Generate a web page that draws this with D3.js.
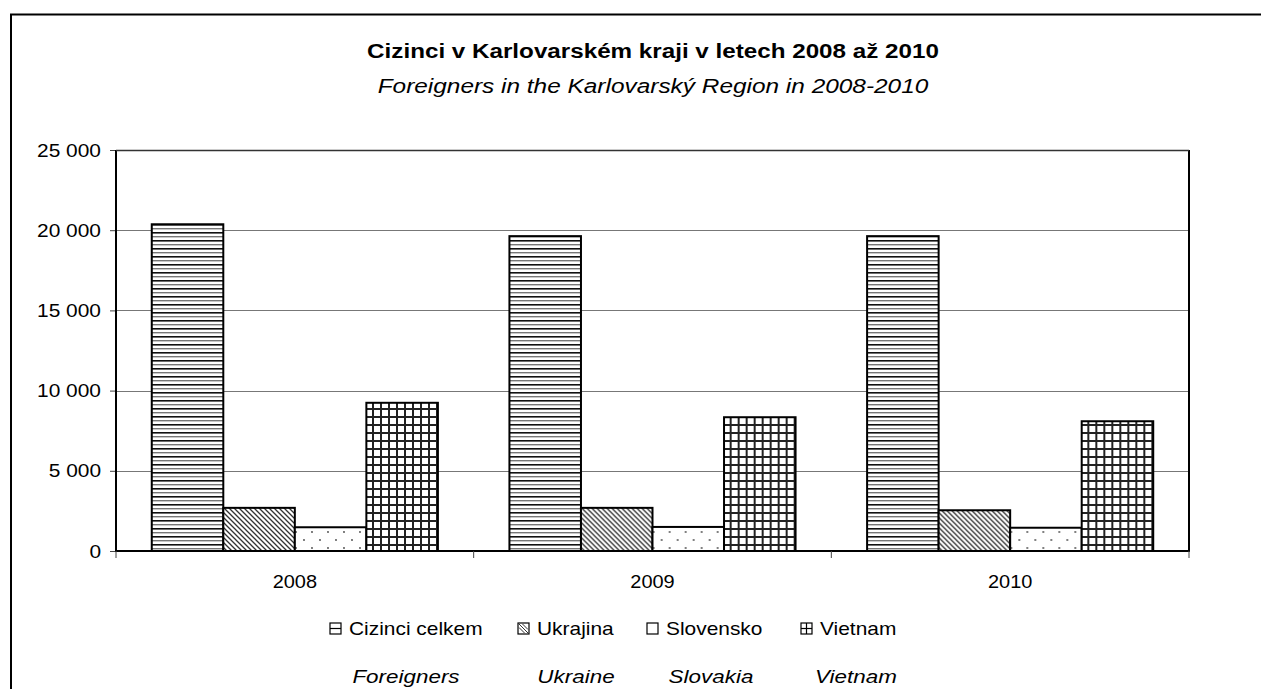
<!DOCTYPE html>
<html>
<head>
<meta charset="utf-8">
<script src="https://cdn.jsdelivr.net/npm/d3@7"></script>
<style>
  html, body { margin: 0; padding: 0; background: #fff; }
  svg { display: block; font-family: "Liberation Sans", Arial, sans-serif; }
</style>
</head>
<body>
<svg id="chart" width="1261" height="689"></svg>
<script>
// ---- data ----
const years = ["2008", "2009", "2010"];
const seriesKeys = ["Cizinci celkem", "Ukrajina", "Slovensko", "Vietnam"];
const seriesEnglish = ["Foreigners", "Ukraine", "Slovakia", "Vietnam"];
const cizinciCelkem = [20370, 19630, 19630];
const ukrajina = [2690, 2690, 2540];
const slovensko = [1480, 1500, 1450];
const vietnam = [9240, 8340, 8090];
const yTicks = [0, 5000, 10000, 15000, 20000, 25000];
const titleCz = "Cizinci v Karlovarském kraji v letech 2008 až 2010";
const titleEn = "Foreigners in the Karlovarský Region in 2008-2010";

const seriesValues = [cizinciCelkem, ukrajina, slovensko, vietnam];
const patternIds = ["pHoriz", "pDiag", "pDots", "pGrid"];

const svg = d3.select("#chart");
const plot = { left: 116, right: 1189, top: 150, bottom: 551 };

// stretch text horizontally to match the reference's wide glyphs
function stretch(sel, k) {
  sel.each(function () {
    const w = this.getComputedTextLength();
    d3.select(this).attr("textLength", w * k).attr("lengthAdjust", "spacingAndGlyphs");
  });
}

// ---- patterns ----
const defs = svg.append("defs");
const ph = defs.append("pattern").attr("id", "pHoriz").attr("patternUnits", "userSpaceOnUse")
  .attr("width", 8).attr("height", 8);
ph.append("rect").attr("width", 8).attr("height", 8).attr("fill", "#fff");
ph.append("rect").attr("y", 0).attr("width", 8).attr("height", 1.6).attr("fill", "#111");
ph.append("rect").attr("y", 4).attr("width", 8).attr("height", 1.4).attr("fill", "#777");
const pd = defs.append("pattern").attr("id", "pDiag").attr("patternUnits", "userSpaceOnUse")
  .attr("width", 5).attr("height", 5);
pd.append("rect").attr("width", 5).attr("height", 5).attr("fill", "#fff");
pd.append("path").attr("d", "M-1,-1 L6,6 M-1,4 L1,6 M4,-1 L6,1").attr("stroke", "#333").attr("stroke-width", 1.3);
const pdt = defs.append("pattern").attr("id", "pDots").attr("patternUnits", "userSpaceOnUse")
  .attr("width", 16).attr("height", 16);
pdt.append("rect").attr("width", 16).attr("height", 16).attr("fill", "#fff");
pdt.append("circle").attr("cx", 4).attr("cy", 4).attr("r", 0.9).attr("fill", "#444");
pdt.append("circle").attr("cx", 12).attr("cy", 12).attr("r", 0.9).attr("fill", "#444");
const pg = defs.append("pattern").attr("id", "pGrid").attr("patternUnits", "userSpaceOnUse")
  .attr("width", 8).attr("height", 8);
pg.append("rect").attr("width", 8).attr("height", 8).attr("fill", "#fff");
pg.append("rect").attr("x", 0).attr("width", 2).attr("height", 8).attr("fill", "#222");
pg.append("rect").attr("y", 0).attr("width", 8).attr("height", 2).attr("fill", "#222");

// ---- outer border ----
svg.append("path").attr("d", "M11,700 L11,14.5 L1265,14.5")
  .attr("fill", "none").attr("stroke", "#000").attr("stroke-width", 2);

// ---- titles ----
svg.append("text").attr("x", 653).attr("y", 58).attr("text-anchor", "middle")
  .attr("font-size", 20).attr("font-weight", "bold").text(titleCz).call(stretch, 1.21);
svg.append("text").attr("x", 653).attr("y", 93).attr("text-anchor", "middle")
  .attr("font-size", 20).attr("font-style", "italic").text(titleEn).call(stretch, 1.22);

// ---- scales ----
const x0 = d3.scaleBand().domain(years).range([plot.left, plot.right]).paddingInner(0).paddingOuter(0);
const x1 = d3.scaleBand().domain(seriesKeys).range([0, x0.bandwidth()]).paddingInner(0).paddingOuter(0.5);
const y = d3.scaleLinear().domain([0, 25000]).range([plot.bottom, plot.top]);

// gridlines
svg.append("g").selectAll("line").data(yTicks.filter(d => d > 0)).join("line")
  .attr("x1", plot.left).attr("x2", plot.right)
  .attr("y1", d => Math.round(y(d)) + 0.5).attr("y2", d => Math.round(y(d)) + 0.5)
  .attr("stroke", "#777").attr("stroke-width", 1);

// y axis
const fmt = d => d3.format(",")(d).replace(/,/g, " ");
const yAxis = svg.append("g").attr("transform", `translate(${plot.left},0)`)
  .call(d3.axisLeft(y).tickValues(yTicks).tickSize(6).tickPadding(9).tickFormat(fmt));
yAxis.select(".domain").remove();
yAxis.selectAll(".tick line").attr("stroke", "#444");
yAxis.selectAll("text").attr("font-size", 19).attr("fill", "#000")
  .attr("font-family", "Liberation Sans, Arial, sans-serif").call(stretch, 1.1);

// bars
const groups = svg.append("g").selectAll("g").data(years).join("g")
  .attr("transform", d => `translate(${x0(d)},0)`);
groups.selectAll("rect").data((yr, i) => seriesKeys.map((k, s) => ({ k, s, v: seriesValues[s][i] })))
  .join("rect")
  .attr("x", d => x1(d.k))
  .attr("y", d => y(d.v))
  .attr("width", x1.bandwidth())
  .attr("height", d => y(0) - y(d.v))
  .attr("fill", d => `url(#${patternIds[d.s]})`)
  .attr("stroke", "#000").attr("stroke-width", 2);

// plot frame
svg.append("path")
  .attr("d", `M${plot.left},${plot.top} L${plot.left},${plot.bottom} L${plot.right},${plot.bottom} L${plot.right},${plot.top}`)
  .attr("fill", "none").attr("stroke", "#000").attr("stroke-width", 2);
svg.append("line").attr("x1", plot.left).attr("x2", plot.right)
  .attr("y1", plot.top + 0.5).attr("y2", plot.top + 0.5).attr("stroke", "#333").attr("stroke-width", 1.5);

// x axis ticks at band boundaries and labels
const bounds = years.map(d => x0(d)).concat([plot.right]);
svg.append("g").selectAll("line").data(bounds).join("line")
  .attr("x1", d => d).attr("x2", d => d).attr("y1", plot.bottom).attr("y2", plot.bottom + 7)
  .attr("stroke", "#444").attr("stroke-width", 1);
const xAxis = svg.append("g").attr("transform", `translate(0,${plot.bottom})`)
  .call(d3.axisBottom(x0).tickSize(0).tickPadding(24));
xAxis.select(".domain").remove();
xAxis.selectAll("text").attr("font-size", 19).attr("fill", "#000")
  .attr("font-family", "Liberation Sans, Arial, sans-serif").call(stretch, 1.05);

// legend
const legendSymX = [330, 518, 647, 801];
const legendItems = svg.append("g").selectAll("g").data(seriesKeys).join("g")
  .attr("transform", (d, i) => `translate(${legendSymX[i]},623)`);
legendItems.append("rect").attr("x", 0).attr("y", 0).attr("width", 11).attr("height", 11)
  .attr("fill", "#fff").attr("stroke", "#000").attr("stroke-width", 1.2);
legendItems.each(function (d, i) {
  const g = d3.select(this);
  if (i === 0) {
    g.append("line").attr("x1", 0).attr("x2", 11).attr("y1", 5.5).attr("y2", 5.5).attr("stroke", "#000").attr("stroke-width", 1.2);
  } else if (i === 1) {
    g.append("path").attr("d", "M1,1 L10,10 M1,4.5 L6.5,10 M4.5,1 L10,6.5").attr("stroke", "#333").attr("stroke-width", 1);
  } else if (i === 3) {
    g.append("line").attr("x1", 0).attr("x2", 11).attr("y1", 5.5).attr("y2", 5.5).attr("stroke", "#000").attr("stroke-width", 1.2);
    g.append("line").attr("x1", 5.5).attr("x2", 5.5).attr("y1", 0).attr("y2", 11).attr("stroke", "#000").attr("stroke-width", 1.2);
  }
});
legendItems.append("text").attr("x", 19).attr("y", 12).attr("font-size", 19).text(d => d).call(stretch, 1.1);

// english legend labels
const enX = [406, 576, 711, 856];
svg.append("g").selectAll("text").data(seriesEnglish).join("text")
  .attr("x", (d, i) => enX[i]).attr("y", 683).attr("text-anchor", "middle")
  .attr("font-size", 19).attr("font-style", "italic").text(d => d).call(stretch, 1.18);
</script>
</body>
</html>
